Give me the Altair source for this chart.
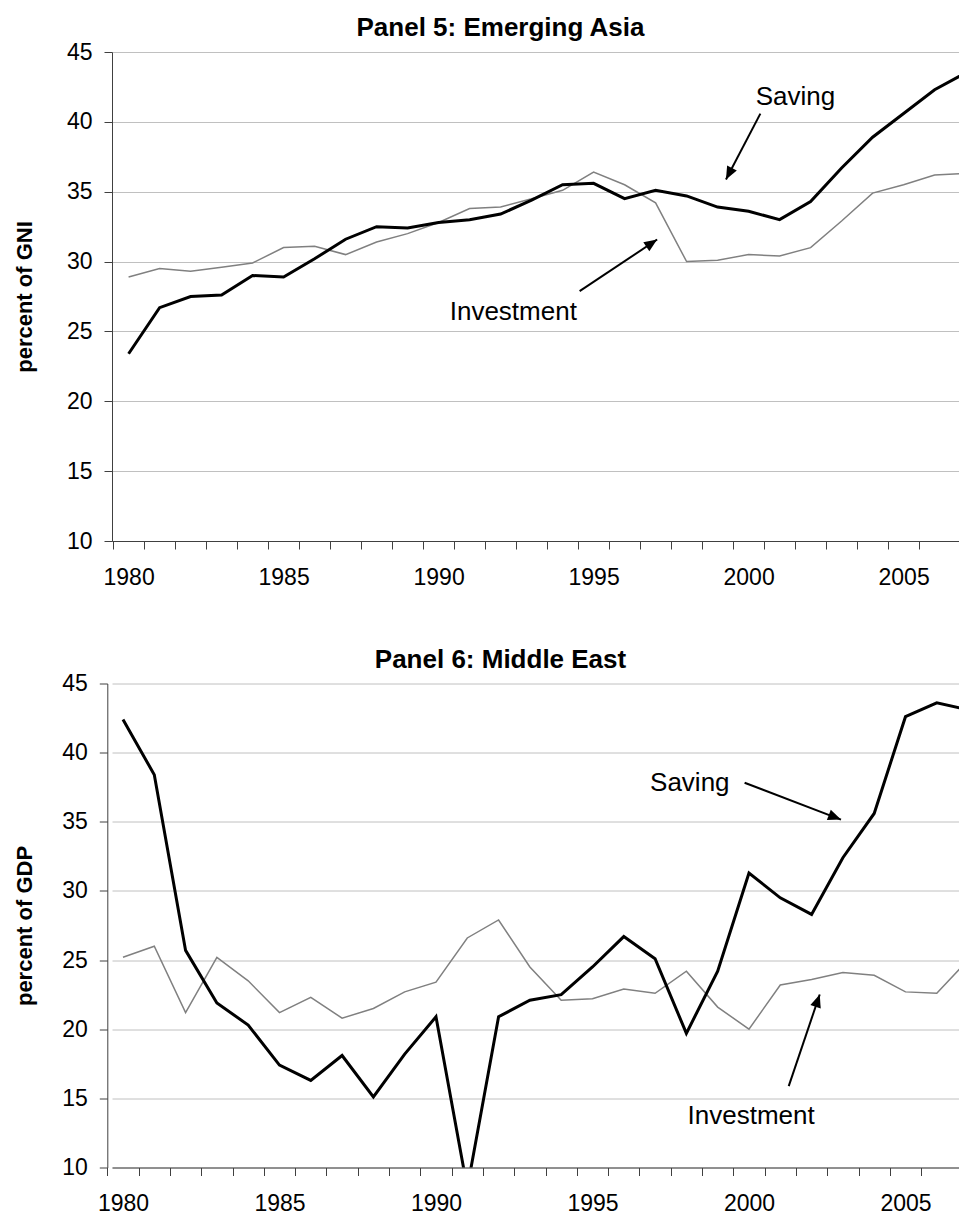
import altair as alt
import pandas as pd

FONT = "Liberation Sans"
years = list(range(1980, 2008))

# Panel 5: Emerging Asia (percent of GNI)
asia_saving = [23.4, 26.7, 27.5, 27.6, 29.0, 28.9, 30.2, 31.6, 32.5, 32.4,
               32.8, 33.0, 33.4, 34.4, 35.5, 35.6, 34.5, 35.1, 34.7, 33.9,
               33.6, 33.0, 34.3, 36.7, 38.9, 40.6, 42.3, 43.5]
asia_investment = [28.9, 29.5, 29.3, 29.6, 29.9, 31.0, 31.1, 30.5, 31.4, 32.0,
                   32.8, 33.8, 33.9, 34.5, 35.1, 36.4, 35.5, 34.2, 30.0, 30.1,
                   30.5, 30.4, 31.0, 32.9, 34.9, 35.5, 36.2, 36.3]

# Panel 6: Middle East (percent of GDP)
me_saving = [42.4, 38.4, 25.7, 21.9, 20.3, 17.4, 16.3, 18.1, 15.1, 18.2,
             20.9, 8.5, 20.9, 22.1, 22.5, 24.5, 26.7, 25.1, 19.7, 24.2,
             31.3, 29.5, 28.3, 32.4, 35.6, 42.6, 43.6, 43.1]
me_investment = [25.2, 26.0, 21.2, 25.2, 23.5, 21.2, 22.3, 20.8, 21.5, 22.7,
                 23.4, 26.6, 27.9, 24.5, 22.1, 22.2, 22.9, 22.6, 24.2, 21.6,
                 20.0, 23.2, 23.6, 24.1, 23.9, 22.7, 22.6, 25.0]

ann_labels = ["Saving", "Investment"]

# annotation anchors in data coordinates (year, value)
asia_text_year = [2001.51, 1992.41]
asia_text_value = [41.24, 25.79]
asia_arrow_year = [2000.38, 1994.55]
asia_arrow_value = [40.59, 27.88]
asia_arrow_year2 = [1999.27, 1997.05]
asia_arrow_value2 = [35.87, 31.58]
asia_arrow_angle = [207.5, 56.4]

me_text_year = [1998.11, 2000.07]
me_text_value = [37.21, 13.18]
me_arrow_year = [1999.86, 2001.27]
me_arrow_value = [37.82, 15.88]
me_arrow_year2 = [2002.94, 2002.26]
me_arrow_value2 = [35.16, 22.51]
me_arrow_angle = [110.8, 18.7]

y_ticks = [10, 15, 20, 25, 30, 35, 40, 45]
ARROW = "M0,0L-0.42,1L0.42,1Z"


def panel(title, ytitle, saving, investment, xdom, width, height, half, tpad, yoff, tdx,
          lx, ly, ax, ay, ax2, ay2, ang):
    xs = alt.Scale(domain=xdom, nice=False, zero=False)
    ys = alt.Scale(domain=[10, 45], nice=False, zero=False)
    xaxis = alt.Axis(values=years, format="d",
                     labelExpr="datum.value % 5 === 0 ? datum.label : ''",
                     tickOffset=-half, labelOffset=half, grid=False, tickSize=8,
                     labelPadding=17, labelOverlap=False, labelFlush=False)
    yaxis = alt.Axis(values=y_ticks, grid=True, tickSize=8, labelPadding=12,
                     titlePadding=tpad, offset=yoff)

    def X(f):
        return alt.X(f, type="quantitative", scale=xs, axis=xaxis, title=None)

    def Y(f):
        return alt.Y(f, type="quantitative", scale=ys, axis=yaxis, title=ytitle)

    lines = pd.DataFrame({"year": years, "saving": saving, "investment": investment})
    inv = alt.Chart(lines).mark_line(color="#808080", strokeWidth=1.5, clip=True).encode(
        x=X("year"), y=Y("investment"))
    sav = alt.Chart(lines).mark_line(color="#000000", strokeWidth=3, clip=True).encode(
        x=X("year"), y=Y("saving"))
    tdf = pd.DataFrame({"year": lx, "value": ly, "label": ann_labels})
    txt = alt.Chart(tdf).mark_text(font=FONT, fontSize=26, baseline="alphabetic",
                                   align="center", color="black").encode(
        x=X("year"), y=Y("value"), text="label:N")
    adf = pd.DataFrame({"year": ax, "value": ay, "year2": ax2, "value2": ay2, "angle": ang})
    rule = alt.Chart(adf).mark_rule(color="black", strokeWidth=2).encode(
        x=X("year"), y=Y("value"), x2="year2", y2="value2")
    head = alt.Chart(adf).mark_point(shape=ARROW, filled=True, color="black", size=676,
                                     opacity=1, strokeWidth=0).encode(
        x=X("year2"), y=Y("value2"), angle=alt.Angle("angle:Q", scale=None))
    return alt.layer(inv, sav, rule, head, txt).properties(
        width=width, height=height,
        title=alt.TitleParams(text=title, font=FONT, fontSize=26, fontWeight="bold",
                              color="black", anchor="middle", frame="group", dx=tdx,
                              offset=-21, baseline="alphabetic"))


p1 = panel("Panel 5: Emerging Asia", "percent of GNI", asia_saving, asia_investment,
           [1979.465, 2006.787], 847, 489, 15.5, 30, 0, -35,
           asia_text_year, asia_text_value, asia_arrow_year, asia_arrow_value,
           asia_arrow_year2, asia_arrow_value2, asia_arrow_angle)
p2 = panel("Panel 6: Middle East", "percent of GDP", me_saving, me_investment,
           [1979.649, 2006.71], 847, 484, 15.65, 25.3, 4.7, -35,
           me_text_year, me_text_value, me_arrow_year, me_arrow_value,
           me_arrow_year2, me_arrow_value2, me_arrow_angle)

chart = alt.vconcat(p1, p2, spacing=57.5).properties(
    padding={"left": 5, "top": 7, "right": 0, "bottom": 0}
).configure_view(stroke=None).configure_axis(
    labelFont=FONT, labelFontSize=23, labelColor="black",
    titleFont=FONT, titleFontSize=22, titleFontWeight="bold", titleColor="black",
    domainColor="#404040", tickColor="#404040", gridColor="#c0c0c0",
    domainWidth=1, tickWidth=1, gridWidth=1)

chart.save("out.html", embed_options={"renderer": "svg", "actions": False})
